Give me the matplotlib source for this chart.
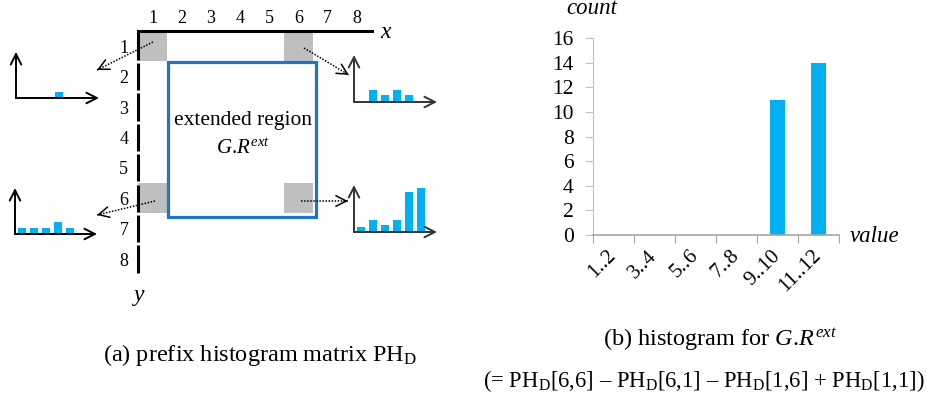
import numpy as np
import matplotlib
matplotlib.use("Agg")
import matplotlib.pyplot as plt
from matplotlib.patches import Rectangle

plt.rcParams['font.family'] = ['Liberation Serif', 'DejaVu Serif']
plt.rcParams['mathtext.fontset'] = 'custom'
plt.rcParams['mathtext.rm'] = 'Liberation Serif'
plt.rcParams['mathtext.it'] = 'Liberation Serif:italic'

# ---------------- data ----------------
grid_cols = [1, 2, 3, 4, 5, 6, 7, 8]
grid_rows = [1, 2, 3, 4, 5, 6, 7, 8]
corner_cells = [(1, 1), (1, 6), (6, 1), (6, 6)]   # (row, col)
ext_rows = (2, 6)
ext_cols = (2, 6)

bins = ['1..2', '3..4', '5..6', '7..8', '9..10', '11..12']
counts = [0, 0, 0, 0, 11, 14]
count_ticks = [0, 2, 4, 6, 8, 10, 12, 14, 16]

mini_tl = [0, 0, 0, 1, 0, 0]        # PH_D[1,1]
mini_tr = [0, 2, 1.2, 2, 1.2, 0]    # PH_D[1,6]
mini_bl = [1, 1, 1, 2, 1, 0]        # PH_D[6,1]
mini_br = [0.8, 2, 1.2, 2, 6.7, 7.3]  # PH_D[6,6]

BLUE = '#00b0f0'
W, H = 927, 397
fig = plt.figure(figsize=(W / 100, H / 100), dpi=100)


def px_axes(x0, y0, x1, y1, **kw):
    return fig.add_axes([x0 / W, 1 - y1 / H, (x1 - x0) / W, (y1 - y0) / H], **kw)


# ---------------- (a) grid ----------------
gx0, gy0 = 138, 31
cw, rh = 29.2, 30.4
axg = px_axes(gx0, gy0, gx0 + cw * 8, gy0 + rh * 8)
axg.set_xlim(0.5, 8.5)
axg.set_ylim(8.5, 0.5)
axg.patch.set_visible(False)
for s in ['left', 'right', 'bottom']:
    axg.spines[s].set_visible(False)
axg.spines['top'].set_linewidth(2.2)
axg.xaxis.tick_top()
axg.set_xticks(grid_cols)
axg.set_xticklabels([str(c) for c in grid_cols])
axg.set_yticks(grid_rows)
axg.set_yticklabels([str(r) for r in grid_rows])
axg.tick_params(length=0, labelsize=13)
axg.tick_params(axis='x', pad=3)
axg.tick_params(axis='y', pad=7)

for (r, c) in corner_cells:
    axg.add_patch(Rectangle((c - 0.5, r - 0.5), 1, 1, facecolor='#bfbfbf',
                            edgecolor='none', zorder=1))
axg.add_patch(Rectangle((ext_cols[0] - 0.47, ext_rows[0] - 0.47),
                        ext_cols[1] - ext_cols[0] + 1.07, ext_rows[1] - ext_rows[0] + 1.09,
                        facecolor='none', edgecolor='#1f74c4', lw=2.3, zorder=2))
gap = 0.05
for r in grid_rows:
    lo = r - 0.5 + (gap if r > 1 else 0)
    hi = r + 0.5 - gap
    axg.plot([0.5, 0.5], [lo, hi], color='black', lw=2.2, clip_on=False,
             solid_capstyle='butt', zorder=3)
axg.text(4.1, 3.43, 'extended region', ha='center', va='center', fontsize=15.5)
axg.text(4.1, 4.38, r'$G.\!R^{ext}$', ha='center', va='center', fontsize=15)

# ---------------- mini histograms ----------------
head = '->,head_length=0.75,head_width=0.38'
specs = [(mini_tl, (16, 52, 99, 98), 'black'),
         (mini_tr, (354, 55, 437, 102), '#333333'),
         (mini_bl, (15, 188, 97, 234), 'black'),
         (mini_br, (354, 185, 437, 232), '#333333')]
for vals, (x0, y0, x1, y1), col in specs:
    axm = px_axes(x0, y0, x1, y1)
    axm.set_xlim(-0.6, (x1 - x0) / 12 - 0.6)
    axm.set_ylim(0, (y1 - y0) / 6)
    axm.bar(range(len(vals)), vals, width=0.667, color=BLUE, zorder=1)
    axm.axis('off')
    for tip in [(0, 1), (1, 0)]:
        axm.annotate('', xy=tip, xytext=(0, 0), xycoords='axes fraction',
                     arrowprops=dict(arrowstyle=head, lw=1.4, color=col,
                                     shrinkA=0, shrinkB=0, mutation_scale=10),
                     annotation_clip=False)

# ---------------- (b) histogram ----------------
axh = px_axes(593, 38, 839, 235)
axh.bar(range(len(bins)), counts, width=0.39, color=BLUE, zorder=2)
axh.set_xlim(-0.5, len(bins) - 0.5)
axh.set_ylim(0, 16)
axh.set_yticks(count_ticks)
axh.tick_params(axis='y', length=6, color='#bfbfbf', labelsize=15.5, pad=8)
axh.set_xticks(np.arange(len(bins) + 1) - 0.5)
axh.set_xticklabels([])
axh.tick_params(axis='x', which='major', length=6, color='#a6a6a6')
axh.set_xticks(np.arange(len(bins)), minor=True)
axh.set_xticklabels(bins, minor=True, rotation=45, ha='right', va='center',
                    rotation_mode='anchor', fontsize=15)
axh.tick_params(axis='x', which='minor', length=0, pad=13)
for s in ['top', 'right']:
    axh.spines[s].set_visible(False)
axh.spines['left'].set_color('#bfbfbf')
axh.spines['bottom'].set_color('#a6a6a6')
axh.spines['bottom'].set_linewidth(1.2)

# ---------------- overlay: arrows and captions ----------------
ov = fig.add_axes([0, 0, 1, 1], zorder=10)
ov.set_xlim(0, W)
ov.set_ylim(H, 0)
ov.axis('off')
ov.patch.set_visible(False)

dotted = [((153, 42), (97, 70)), ((304, 48), (349, 75)),
          ((155, 201), (97, 215)), ((301, 201), (348, 201))]
for (sx, sy), (ex, ey) in dotted:
    ov.plot([sx, ex], [sy, ey], color='black', lw=1.1, ls=(0, (1, 1)))
    d = np.hypot(ex - sx, ey - sy)
    ux, uy = (ex - sx) / d, (ey - sy) / d
    ov.annotate('', xy=(ex, ey), xytext=(ex - 4 * ux, ey - 4 * uy),
                arrowprops=dict(arrowstyle=head, lw=1.1, color='black',
                                shrinkA=0, shrinkB=0, mutation_scale=10))

ov.text(386, 32, 'x', style='italic', fontsize=17, ha='center', va='center')
ov.text(139, 296, 'y', style='italic', fontsize=17, ha='center', va='center')
ov.text(592, 9, 'count', style='italic', fontsize=16.5, ha='center', va='center')
ov.text(875, 237, 'value', style='italic', fontsize=16.5, ha='center', va='center')

ov.text(260, 355, r'(a) prefix histogram matrix PH$_{\mathrm{D}}$', fontsize=17.5,
        ha='center', va='center')
ov.text(720, 340, r'(b) histogram for $G.\!R^{ext}$', fontsize=17.5,
        ha='center', va='center')
ov.text(704, 381, r'(= PH$_{\mathrm{D}}$[6,6] – PH$_{\mathrm{D}}$[6,1] – '
        r'PH$_{\mathrm{D}}$[1,6] + PH$_{\mathrm{D}}$[1,1])', fontsize=16.3,
        ha='center', va='center')

fig.savefig('out.png', dpi=100)
